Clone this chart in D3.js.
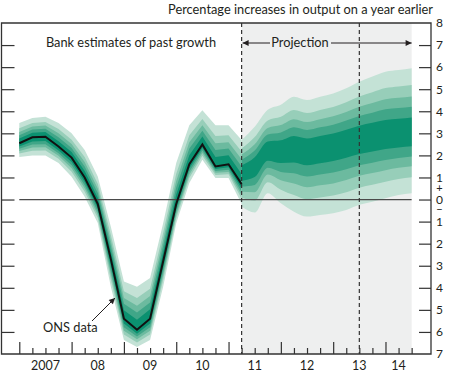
<!DOCTYPE html>
<html lang="en">
<head>
<meta charset="UTF-8">
<title>GDP growth fan chart</title>
<style>
  body { margin: 0; background: #fff; }
  text { font-family: Lato, "Open Sans", sans-serif; fill: #231f20; }
</style>
</head>
<body>
<script src="https://d3js.org/d3.v7.min.js"></script>
<script>
  // past: ONS data and the Bank's backcast range (plotted at quarter end)
  const pastQuarters = ["2006 Q4", "2007 Q1", "2007 Q2", "2007 Q3", "2007 Q4", "2008 Q1",
    "2008 Q2", "2008 Q3", "2008 Q4", "2009 Q1", "2009 Q2", "2009 Q3", "2009 Q4",
    "2010 Q1", "2010 Q2", "2010 Q3", "2010 Q4", "2011 Q1"]
  const onsData   = [2.55, 2.82, 2.85, 2.4, 1.9, 1.0, -0.2, -2.7, -5.4, -5.9, -5.4, -2.8, -0.2, 1.6, 2.5, 1.5, 1.6, 0.7]
  const pastUpper = [3.47, 3.7, 3.75, 3.47, 3.0, 2.25, 1.04, -1.23, -3.72, -3.95, -3.56, -1.07, 1.65, 3.37, 4.05, 3.37, 3.37, 2.7]
  const pastLower = [1.93, 2.0, 2.0, 1.65, 1.03, 0.13, -1.06, -3.95, -6.37, -6.68, -6.37, -3.95, -1.07, 0.75, 1.8, 0.98, 0.98, -0.2]

  // projection fan
  const projQuarters = ["2011 Q1", "2011 Q2", "2011 Q3", "2011 Q4", "2012 Q1", "2012 Q2", "2012 Q3",
    "2012 Q4", "2013 Q1", "2013 Q2", "2013 Q3", "2013 Q4", "2014 Q1", "2014 Q2"]
  const projMode  = [1.2, 1.5, 2.2, 2.2, 2.35, 2.25, 2.35, 2.45, 2.6, 2.75, 2.85, 2.95, 3.0, 3.05]
  const projUpper = [2.7, 3.3, 4.07, 4.3, 4.66, 4.51, 4.66, 4.81, 5.04, 5.34, 5.57, 5.79, 5.87, 5.95]
  const projLower = [-0.32, -0.59, 0.29, -0.17, -0.55, -0.77, -0.7, -0.62, -0.47, -0.24, -0.1, 0.06, 0.21, 0.29]

  const bandShare = [0.23, 0.4, 0.56, 0.74, 1]
  const bandColors = ["#0b9170", "#40a688", "#6cba9f", "#97ceb9", "#c4e2d6"]

  const yearLabels = ["2007", "08", "09", "10", "11", "12", "13", "14"]
  const yTicks = d3.range(-7, 9)

  const W = 450, H = 375
  const FS = '12.8px'
  const qTime = s => { const [y, q] = s.split(" Q"); return +y + (+q) / 4 }

  const x = d3.scaleLinear().domain([2006.66, 2014.87]).range([1.5, 431])
  const y = d3.scaleLinear().domain([-7, 8]).range([354, 23])

  const svg = d3.select('body').append('svg')
    .attr('width', W).attr('height', H)

  const projStart = qTime(projQuarters[0])
  const projEnd = qTime(projQuarters[projQuarters.length - 1])

  // shaded projection area
  svg.append('rect')
    .attr('x', x(projStart)).attr('y', y(8))
    .attr('width', x(projEnd) - x(projStart))
    .attr('height', y(-7) - y(8))
    .attr('fill', '#eeefef')

  function drawFan(times, mode, upper, lower, curve) {
    const rows = times.map((t, i) => ({ t: qTime(t), m: mode[i], u: upper[i], l: lower[i] }))
    const g = svg.append('g')
    for (let j = bandShare.length - 1; j >= 0; j--) {
      const f = bandShare[j]
      const area = d3.area()
        .curve(curve)
        .x(d => x(d.t))
        .y0(d => y(d.m - f * (d.m - d.l)))
        .y1(d => y(d.m + f * (d.u - d.m)))
      g.append('path').datum(rows)
        .attr('d', area)
        .attr('fill', bandColors[j])
    }
  }

  drawFan(pastQuarters, onsData, pastUpper, pastLower, d3.curveLinear)
  drawFan(projQuarters, projMode, projUpper, projLower, d3.curveMonotoneX)

  // zero line
  svg.append('line')
    .attr('x1', x(2007)).attr('x2', x(projEnd))
    .attr('y1', y(0)).attr('y2', y(0))
    .attr('stroke', '#4a4a4a').attr('stroke-width', 1.3)

  // ONS line
  const line = d3.line().x((d, i) => x(qTime(pastQuarters[i]))).y(d => y(d))
  svg.append('path').datum(onsData)
    .attr('d', line)
    .attr('fill', 'none')
    .attr('stroke', '#111')
    .attr('stroke-width', 2)

  // dashed lines
  svg.selectAll('line.dash')
    .data([projStart, 2013.5])
    .join('line')
    .attr('class', 'dash')
    .attr('x1', d => x(d)).attr('x2', d => x(d))
    .attr('y1', y(8)).attr('y2', y(-7))
    .attr('stroke', '#333').attr('stroke-width', 1.2)
    .attr('stroke-dasharray', '4,3')

  // axes
  const styleAxis = g => {
    g.select('.domain').remove()
    g.selectAll('line').attr('stroke', '#333').attr('stroke-width', 1.2)
  }

  svg.append('g')
    .attr('transform', 'translate(1.5,0)')
    .call(d3.axisRight(y).tickValues(d3.range(-6, 8)).tickSize(13).tickFormat(''))
    .call(styleAxis)

  svg.append('g')
    .attr('transform', 'translate(431,0)')
    .call(d3.axisLeft(y).tickValues(d3.range(-6, 8)).tickSize(12).tickFormat(''))
    .call(styleAxis)

  const rightLabels = svg.append('g')
    .attr('transform', 'translate(431,0)')
    .call(d3.axisRight(y).tickValues(yTicks).tickSize(0).tickFormat(d => Math.abs(d)))
  rightLabels.select('.domain').remove()
  rightLabels.selectAll('text')
    .attr('x', 8.5).attr('text-anchor', 'middle')
    .style('font-family', 'Lato, sans-serif').style('font-size', '12px').attr('fill', '#231f20')

  svg.append('text').attr('x', 439.5).attr('y', y(0) - 11).attr('text-anchor', 'middle')
    .attr('dy', '0.35em').style('font-size', '11px').text('+')
  svg.append('text').attr('x', 439.5).attr('y', y(0) + 10).attr('text-anchor', 'middle')
    .attr('dy', '0.35em').style('font-size', '11px').text('\u2212')

  const quarterTicks = d3.range(2007, projEnd + 0.01, 0.25)
  const xAxis = svg.append('g')
    .attr('transform', `translate(0,${y(-7)})`)
    .call(d3.axisTop(x).tickValues(quarterTicks).tickSize(6).tickFormat(''))
    .call(styleAxis)
  xAxis.selectAll('.tick line')
    .filter(d => Math.abs(d - Math.round(d)) < 1e-6)
    .attr('y2', -12)

  svg.selectAll('text.year')
    .data(yearLabels)
    .join('text')
    .attr('class', 'year')
    .attr('x', (d, i) => (x(2007 + i) + x(Math.min(2008 + i, projEnd))) / 2)
    .attr('y', 370)
    .attr('text-anchor', 'middle')
    .style('font-size', '12.5px')
    .text(d => d)

  // frame
  svg.append('path')
    .attr('d', `M${x.range()[0]},${y(-7)}V${y(8)}H${x.range()[1]}V${y(-7)}Z`)
    .attr('fill', 'none').attr('stroke', '#333').attr('stroke-width', 1.3)

  // titles and notes
  svg.append('text').attr('x', 433).attr('y', 14).attr('text-anchor', 'end')
    .style('font-size', FS).text('Percentage increases in output on a year earlier')

  svg.append('text').attr('x', 131).attr('y', 47).attr('text-anchor', 'middle')
    .style('font-size', FS).text('Bank estimates of past growth')

  svg.append('text').attr('x', 300).attr('y', 47).attr('text-anchor', 'middle')
    .style('font-size', FS).text('Projection')

  const defs = svg.append('defs')
  defs.append('marker').attr('id', 'head')
    .attr('viewBox', '0 0 10 10').attr('refX', 10).attr('refY', 5)
    .attr('markerWidth', 8).attr('markerHeight', 6).attr('markerUnits', 'userSpaceOnUse')
    .attr('orient', 'auto')
    .append('path').attr('d', 'M0,0L10,5L0,10Z').attr('fill', '#231f20')

  const arrowY = 43
  svg.append('line')
    .attr('x1', 270).attr('x2', x(projStart) + 1)
    .attr('y1', arrowY).attr('y2', arrowY)
    .attr('stroke', '#231f20').attr('stroke-width', 1)
    .attr('marker-end', 'url(#head)')
  svg.append('line')
    .attr('x1', 331).attr('x2', x(projEnd))
    .attr('y1', arrowY).attr('y2', arrowY)
    .attr('stroke', '#231f20').attr('stroke-width', 1)
    .attr('marker-end', 'url(#head)')

  svg.append('text').attr('x', 43).attr('y', 332)
    .style('font-size', FS).text('ONS data')
  svg.append('line')
    .attr('x1', 92).attr('y1', 321).attr('x2', 115).attr('y2', 298)
    .attr('stroke', '#231f20').attr('stroke-width', 1)
    .attr('marker-end', 'url(#head)')
</script>
</body>
</html>
